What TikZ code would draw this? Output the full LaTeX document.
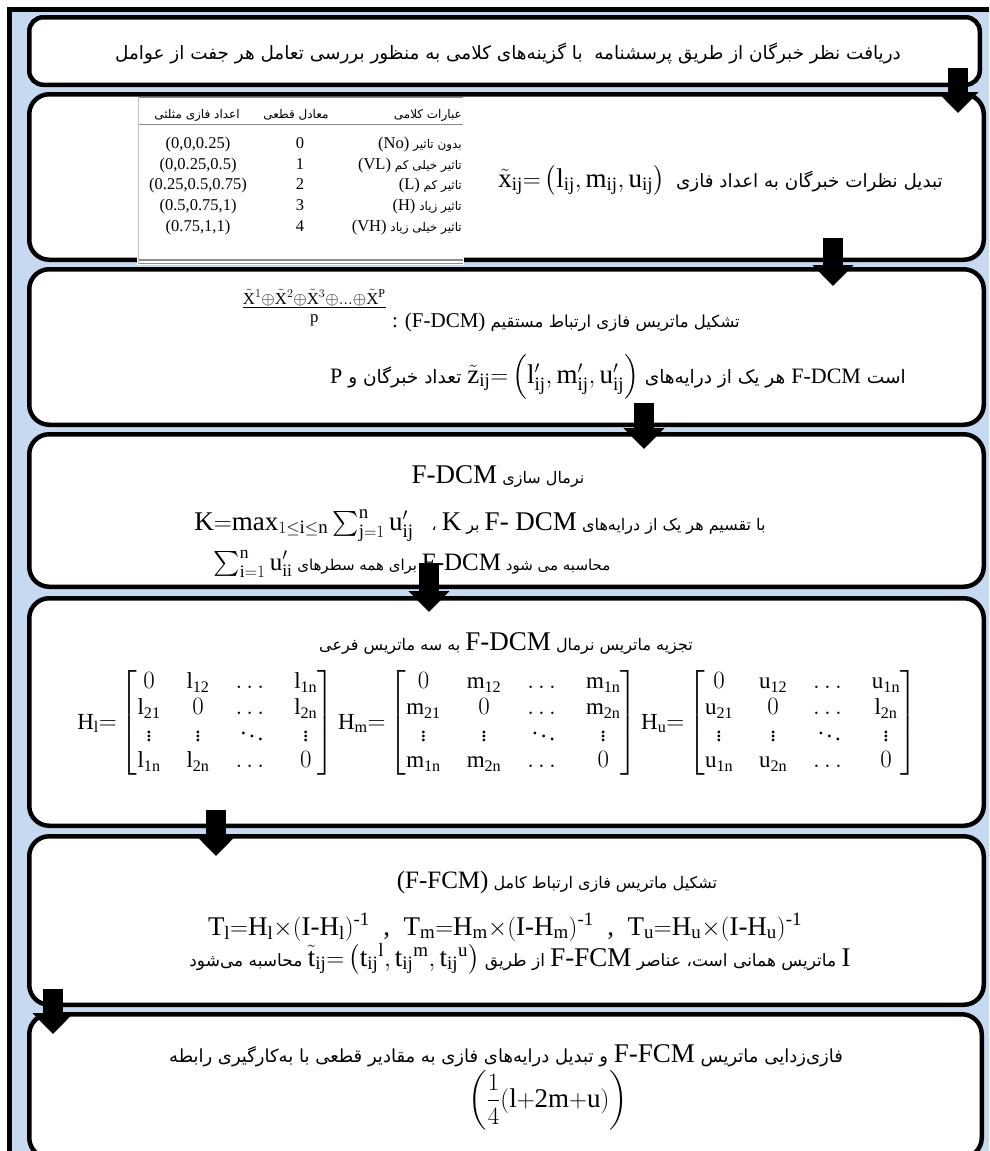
\documentclass[tikz,border=0pt]{standalone}
\usepackage{amsmath}
\usepackage{fontspec}
\setmainfont{Liberation Serif}
\newfontfamily\fa[Script=Arabic]{DejaVu Sans}
\TeXXeTstate=1
\usetikzlibrary{arrows.meta}
\definecolor{bgblue}{RGB}{198,217,241}
\newcommand{\fas}[1]{\fa\fontsize{#1}{#1}\selectfont}
\newcommand{\rl}[1]{\beginR #1\endR}
\newcommand{\latx}[2]{\hbox{\beginL\rmfamily\fontsize{#1}{#1}\selectfont #2\endL}}
\newcommand{\lat}[1]{\latx{27}{#1}}
\newcommand{\tlat}[1]{\latx{16.5}{#1}}
\newcommand{\subij}{_{\mathrm{ij}}}
\tikzset{
  stepbox/.style={draw=black, line width=4.5pt, fill=white, inner sep=0pt, rounded corners=20pt},
  txt/.style={inner sep=0pt, anchor=base, font={\fas{16}}},
  tbl/.style={inner sep=0pt, anchor=base, font={\fas{12}}},
  tblr/.style={inner sep=0pt, anchor=base east, font={\fas{12}}},
  blockarrow/.style={line width=20pt, -{Triangle[width=40pt,length=21pt]}},
  tabrule/.style={draw=black!45, line width=1.2pt},
}
\begin{document}
\begin{tikzpicture}[x=1pt,y=-1pt]
\useasboundingbox (0,0) rectangle (989,1151);
\fill[bgblue] (12,12) rectangle (989,1151);
\draw[line width=5pt] (9.5,1151) -- (9.5,9.5) -- (989,9.5);

% boxes
\node[stepbox, rounded corners=14pt, minimum width=950.5pt, minimum height=67.5pt] (b1) at (504.5,51) {};
\node[stepbox, minimum width=954.5pt, minimum height=165.5pt] (b2) at (506.5,177) {};
\node[stepbox, minimum width=954.5pt, minimum height=155.5pt] (b3) at (506.5,347) {};
\node[stepbox, minimum width=954.5pt, minimum height=152.5pt] (b4) at (506.5,510.5) {};
\node[stepbox, minimum width=954.5pt, minimum height=227.5pt] (b5) at (506.5,712) {};
\node[stepbox, minimum width=954.5pt, minimum height=168.5pt] (b6) at (506.5,920.5) {};
\node[stepbox, minimum width=952.5pt, minimum height=143.5pt] (b7) at (505.5,1086) {};

% box 1
\node[txt, font={\fas{18.4}}] (t1) at (508,59) {\rl{دریافت نظر خبرگان از طریق پرسشنامه\ \ با گزینه^^^^200cهای کلامی به منظور بررسی تعامل هر جفت از عوامل}};

% box 2
\node[txt, anchor=base east, font={\fas{18.3}}] (t2) at (943,187) {\rl{تبدیل نظرات خبرگان به اعداد فازی\ \ \lat{$\tilde{\mathrm{x}}\subij{=}\left(\mathrm{l}\subij,\mathrm{m}\subij,\mathrm{u}\subij\right)$}}};

% table
\fill[white] (137,96.5) rectangle (464,265);
\draw[tabrule, line width=1.5pt] (138,97.5) -- (463,97.5);
\draw[tabrule, line width=1pt] (138,124) -- (463,124);
\draw[tabrule] (138,260) -- (463,260);
\draw[tabrule] (138,263.5) -- (463,263.5);
\draw[draw=black!25, line width=0.8pt] (138,97) -- (138,264);
\node[tblr] (h1) at (462,118) {\rl{عبارات کلامی}};
\node[tbl] (h2) at (296,118) {\rl{معادل قطعی}};
\node[tbl] (h3) at (197,118) {\rl{اعداد فازی مثلثی}};
\node[tblr] (r1a) at (462,148) {\rl{بدون تاثیر \tlat{(No)}}};
\node[tblr] (r2a) at (462,169) {\rl{تاثیر خیلی کم \tlat{(VL)}}};
\node[tblr] (r3a) at (462,189) {\rl{تاثیر کم \tlat{(L)}}};
\node[tblr] (r4a) at (462,210) {\rl{تاثیر زیاد \tlat{(H)}}};
\node[tblr] (r5a) at (462,231) {\rl{تاثیر خیلی زیاد \tlat{(VH)}}};
\node[tbl] (r1b) at (300,148) {\tlat{0}};
\node[tbl] (r2b) at (300,169) {\tlat{1}};
\node[tbl] (r3b) at (300,189) {\tlat{2}};
\node[tbl] (r4b) at (300,210) {\tlat{3}};
\node[tbl] (r5b) at (300,231) {\tlat{4}};
\node[tbl] (r1c) at (198,148) {\tlat{(0,0,0.25)}};
\node[tbl] (r2c) at (198,169) {\tlat{(0,0.25,0.5)}};
\node[tbl] (r3c) at (198,189) {\tlat{(0.25,0.5,0.75)}};
\node[tbl] (r4c) at (198,210) {\tlat{(0.5,0.75,1)}};
\node[tbl] (r5c) at (198,231) {\tlat{(0.75,1,1)}};

% box 3
\node[txt, anchor=base east, font={\fas{16.5}}] (t3a) at (740,327) {\rl{تشکیل ماتریس فازی ارتباط مستقیم \latx{21}{\latx{24}{\raisebox{13pt}{$\frac{\tilde{\mathrm{X}}^{1}\oplus\tilde{\mathrm{X}}^{2}\oplus\tilde{\mathrm{X}}^{3}\oplus\ldots\oplus\tilde{\mathrm{X}}^{\mathrm{P}}}{\mathrm{p}}$}} : (F-DCM)}}};
\node[txt, anchor=base west, font={\fas{18.5}}] (t3b) at (330,383) {\latx{22}{P} \rl{تعداد خبرگان و} \lat{$\tilde{\mathrm{z}}\subij{=}\left(\mathrm{l}'\subij,\mathrm{m}'\subij,\mathrm{u}'\subij\right)$} \rl{هر یک از درایه^^^^200cهای} \latx{22}{F-DCM} \rl{است}};

% box 4
\node[txt] (t4a) at (498,483) {\rl{نرمال سازی \lat{F-DCM}}};
\node[txt] (t4b) at (480,530) {\rl{با تقسیم هر یک از درایه^^^^200cهای \lat{F- DCM} بر \lat{K} ،\hspace{18pt}\lat{$\mathrm{K}{=}\mathrm{max}_{1\leq\mathrm{i}\leq\mathrm{n}}\sum_{\mathrm{j}=1}^{\mathrm{n}}\mathrm{u}'\subij$}}};
\node[txt, font={\fas{15}}] (t4c) at (412,570) {\latx{25}{$\sum_{\mathrm{i}=1}^{\mathrm{n}}\mathrm{u}'_{\mathrm{ii}}$} \rl{برای همه سطرهای} \latx{25}{F-DCM} \rl{محاسبه می شود}};

% box 5
\node[txt] (t5a) at (506,650) {\rl{تجزیه ماتریس نرمال \lat{F-DCM} به سه ماتریس فرعی}};
\node[txt] (t5b) at (497,729) {\hbox{\rmfamily\fontsize{23}{26.5}\selectfont\setlength{\arraycolsep}{13pt}$\mathrm{H_l}{=}\begin{bmatrix}0&\mathrm{l}_{\mathrm{12}}&\dots&\mathrm{l}_{\mathrm{1n}}\\ \mathrm{l}_{\mathrm{21}}&0&\dots&\mathrm{l}_{\mathrm{2n}}\\ \vdots&\vdots&\ddots&\vdots\\ \mathrm{l}_{\mathrm{1n}}&\mathrm{l}_{\mathrm{2n}}&\dots&0\end{bmatrix}\mathrm{H_m}{=}\begin{bmatrix}0&\mathrm{m}_{\mathrm{12}}&\dots&\mathrm{m}_{\mathrm{1n}}\\ \mathrm{m}_{\mathrm{21}}&0&\dots&\mathrm{m}_{\mathrm{2n}}\\ \vdots&\vdots&\ddots&\vdots\\ \mathrm{m}_{\mathrm{1n}}&\mathrm{m}_{\mathrm{2n}}&\dots&0\end{bmatrix}\mathrm{H_u}{=}\begin{bmatrix}0&\mathrm{u}_{\mathrm{12}}&\dots&\mathrm{u}_{\mathrm{1n}}\\ \mathrm{u}_{\mathrm{21}}&0&\dots&\mathrm{l}_{\mathrm{2n}}\\ \vdots&\vdots&\ddots&\vdots\\ \mathrm{u}_{\mathrm{1n}}&\mathrm{u}_{\mathrm{2n}}&\dots&0\end{bmatrix}$}};

% box 6
\node[txt] (t6a) at (557,888) {\rl{تشکیل ماتریس فازی ارتباط کامل \latx{25}{(F-FCM)}}};
\node[txt] (t6b) at (505,935) {\lat{$\mathrm{T_l{=}H_l{\times}(I\text{-}H_l)^{\text{-}1}}$\ \ ,\ \ $\mathrm{T_m{=}H_m{\times}(I\text{-}H_m)^{\text{-}1}}$\ \ ,\ \ $\mathrm{T_u{=}H_u{\times}(I\text{-}H_u)^{\text{-}1}}$}};
\node[txt, font={\fas{17}}] (t6c) at (520,966) {\rl{\lat{I} ماتریس همانی است، عناصر \lat{F-FCM} از طریق \lat{$\tilde{\mathrm{t}}\subij{=}\left(\mathrm{t}\subij{}^{\mathrm{l}},\mathrm{t}\subij{}^{\mathrm{m}},\mathrm{t}\subij{}^{\mathrm{u}}\right)$} محاسبه می^^^^200cشود}};

% box 7
\node[txt, font={\fas{18}}] (t7a) at (506,1062) {\rl{فازی^^^^200cزدایی ماتریس \lat{F-FCM} و تبدیل درایه^^^^200cهای فازی به مقادیر قطعی با به^^^^200cکارگیری رابطه}};
\node[txt] (t7b) at (548,1107) {\lat{$\left(\dfrac{1}{4}(\mathrm{l{+}2m{+}u})\right)$}};

% arrows
\coordinate (a1s) at (958,68);  \coordinate (a1e) at (958,113);
\coordinate (a2s) at (833,238); \coordinate (a2e) at (833,286);
\coordinate (a3s) at (644,403); \coordinate (a3e) at (644,449);
\coordinate (a4s) at (429,563); \coordinate (a4e) at (429,612);
\coordinate (a5s) at (216,810); \coordinate (a5e) at (216,856);
\coordinate (a6s) at (53,989);  \coordinate (a6e) at (53,1034);
\draw[blockarrow] (a1s) -- (a1e);
\draw[blockarrow] (a2s) -- (a2e);
\draw[blockarrow] (a3s) -- (a3e);
\draw[blockarrow] (a4s) -- (a4e);
\draw[blockarrow] (a5s) -- (a5e);
\draw[blockarrow] (a6s) -- (a6e);
\end{tikzpicture}
\end{document}
